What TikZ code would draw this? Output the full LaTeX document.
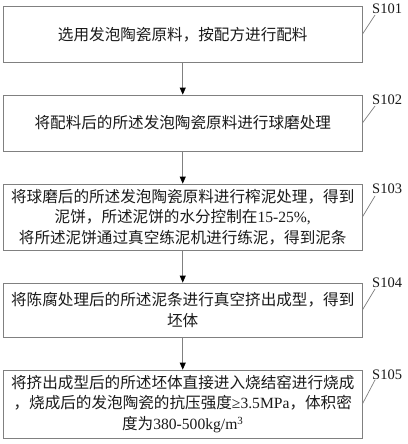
\documentclass[tikz,border=0pt]{standalone}
\usepackage{fontspec}
\setmainfont{Liberation Serif}
\newfontfamily\cjk{Noto Sans CJK SC}
\usetikzlibrary{arrows.meta}
\definecolor{edge}{HTML}{808080}
\definecolor{ink}{HTML}{1A1A1A}
\begin{document}
\begin{tikzpicture}[x=1pt,y=-1pt,
  stepbox/.style={draw=edge,line width=0.8pt,minimum width=358.5pt,inner sep=0pt,align=center,text=ink,
    font=\fontsize{15.6}{20.5}\selectfont},
  steplabel/.style={anchor=base west,inner sep=0pt,text=ink,font=\fontsize{14.5}{16}\selectfont},
  flow/.style={draw=edge,line width=0.8pt,-{Triangle[length=7pt,width=6pt,color=black,fill=black]}},
  leader/.style={draw=edge,line width=0.7pt}]
\useasboundingbox (0,0) rectangle (407,444);
\fill[white] (0,0) rectangle (407,444);
\node[stepbox,minimum height=55.5pt] (b1) at (182.75,34.25) {\cjk 选用发泡陶瓷原料，按配方进行配料};
\node[stepbox,minimum height=56pt] (b2) at (182.75,123) {\cjk 将配料后的所述发泡陶瓷原料进行球磨处理};
\node[stepbox,minimum height=66pt] (b3) at (182.75,217) {{\cjk 将球磨后的所述发泡陶瓷原料进行榨泥处理，得到}\\{\cjk 泥饼，所述泥饼的水分控制在}15-25\%,\\{\cjk 将所述泥饼通过真空练泥机进行练泥，得到泥条}};
\node[stepbox,minimum height=54pt] (b4) at (182.75,310) {{\cjk 将陈腐处理后的所述泥条进行真空挤出成型，得到}\\{\cjk 坯体}};
\node[stepbox,minimum height=68pt] (b5) at (182.75,404) {{\cjk 将挤出成型后的所述坯体直接进入烧结窑进行烧成}\\{\cjk ，烧成后的发泡陶瓷的抗压强度}≥3.5MPa{\cjk ，体积密}\\{\cjk 度为}380-500kg/m\textsuperscript{3}};
\draw[flow] (b1) -- (b2);
\draw[flow] (b2) -- (b3);
\draw[flow] (b3) -- (b4);
\draw[flow] (b4) -- (b5);
\node[steplabel] (l1) at (372,14) {S101};
\node[steplabel] (l2) at (372,104) {S102};
\node[steplabel] (l3) at (372,193) {S103};
\node[steplabel] (l4) at (372,287) {S104};
\node[steplabel] (l5) at (372,379) {S105};
\coordinate (e1) at (375,15);
\coordinate (e2) at (375,106);
\coordinate (e3) at (375,196);
\coordinate (e4) at (375,289);
\coordinate (e5) at (375,380);
\draw[leader] (b1.east) -- (e1);
\draw[leader] (b2.east) -- (e2);
\draw[leader] (b3.east) -- (e3);
\draw[leader] (b4.east) -- (e4);
\draw[leader] (b5.east) -- (e5);
\end{tikzpicture}
\end{document}
